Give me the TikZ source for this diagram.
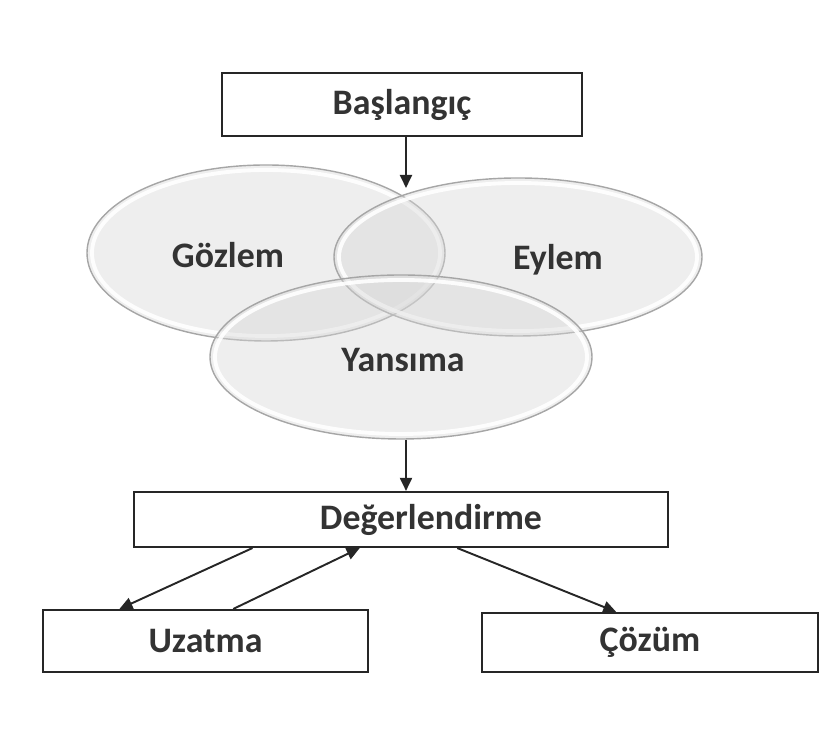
\documentclass[tikz,border=0pt]{standalone}
\usepackage{fontspec}
\setmainfont{Carlito}
\usetikzlibrary{
    shapes.geometric,
    arrows.meta,
    positioning,
    calc
}

\begin{document}
\begin{tikzpicture}[
    txt/.style={text=black!80, font=\fontsize{10.2}{12}\selectfont\bfseries},
    box/.style={txt, draw=black!85, line width=0.6pt, fill=white, inner sep=0pt},
    bubble/.style={ellipse, draw=black!35, line width=0.4pt, fill=black!16, fill opacity=0.42, inner sep=0pt},
    rim/.style={draw=white, line width=1.1pt, opacity=0.9},
    arr/.style={draw=black!85, line width=0.55pt, -{Triangle[length=1.3mm, width=1.2mm]}}
]
    \useasboundingbox (0,0) rectangle (8.25,7.54);

    % the three overlapping ellipses
    \foreach \nm/\pos/\w/\h in {gozlem/{(2.66,5.01)}/3.58/1.76,
                                eylem/{(5.18,4.97)}/3.68/1.58,
                                yansima/{(4.01,3.97)}/3.82/1.64} {
        \node[bubble, minimum width=\w cm, minimum height=\h cm] (\nm) at \pos {};
        \draw[rim] (\nm.center) ellipse ({\w/2-0.05} and {\h/2-0.05});
    }
    \node[txt, anchor=base] (gozlemtxt) at (2.28,4.86) {Gözlem};
    \node[txt, anchor=base] (eylemtxt) at (5.58,4.84) {Eylem};
    \node[txt, anchor=base] (yansimatxt) at (4.03,3.82) {Yansıma};

    % boxes
    \node[box, minimum width=3.60cm, minimum height=0.63cm] (start) at (4.02,6.495) {Başlangıç};
    \node[box, minimum width=5.34cm, minimum height=0.55cm] (deger) at (4.01,2.345) {\hspace*{0.6cm}Değerlendirme};
    \node[box, minimum width=3.25cm, minimum height=0.62cm] (uzatma) at (2.055,1.13) {Uzatma};
    \node[box, minimum width=3.36cm, minimum height=0.59cm] (cozum) at (6.50,1.115) {Çözüm};

    % arrows
    \coordinate (entry) at (4.06,5.66);
    \draw[arr] (start.south -| entry) -- (entry);
    \draw[arr] (yansima.south -| entry) -- (deger.north -| entry);
    \draw[arr] ($(deger.south west)!0.223!(deger.south east)$) -- ($(uzatma.north west)!0.237!(uzatma.north east)$);
    \draw[arr] ($(uzatma.north west)!0.585!(uzatma.north east)$) -- ($(deger.south west)!0.423!(deger.south east)$);
    \draw[arr] ($(deger.south west)!0.605!(deger.south east)$) -- ($(cozum.north west)!0.40!(cozum.north east)$);
\end{tikzpicture}
\end{document}
